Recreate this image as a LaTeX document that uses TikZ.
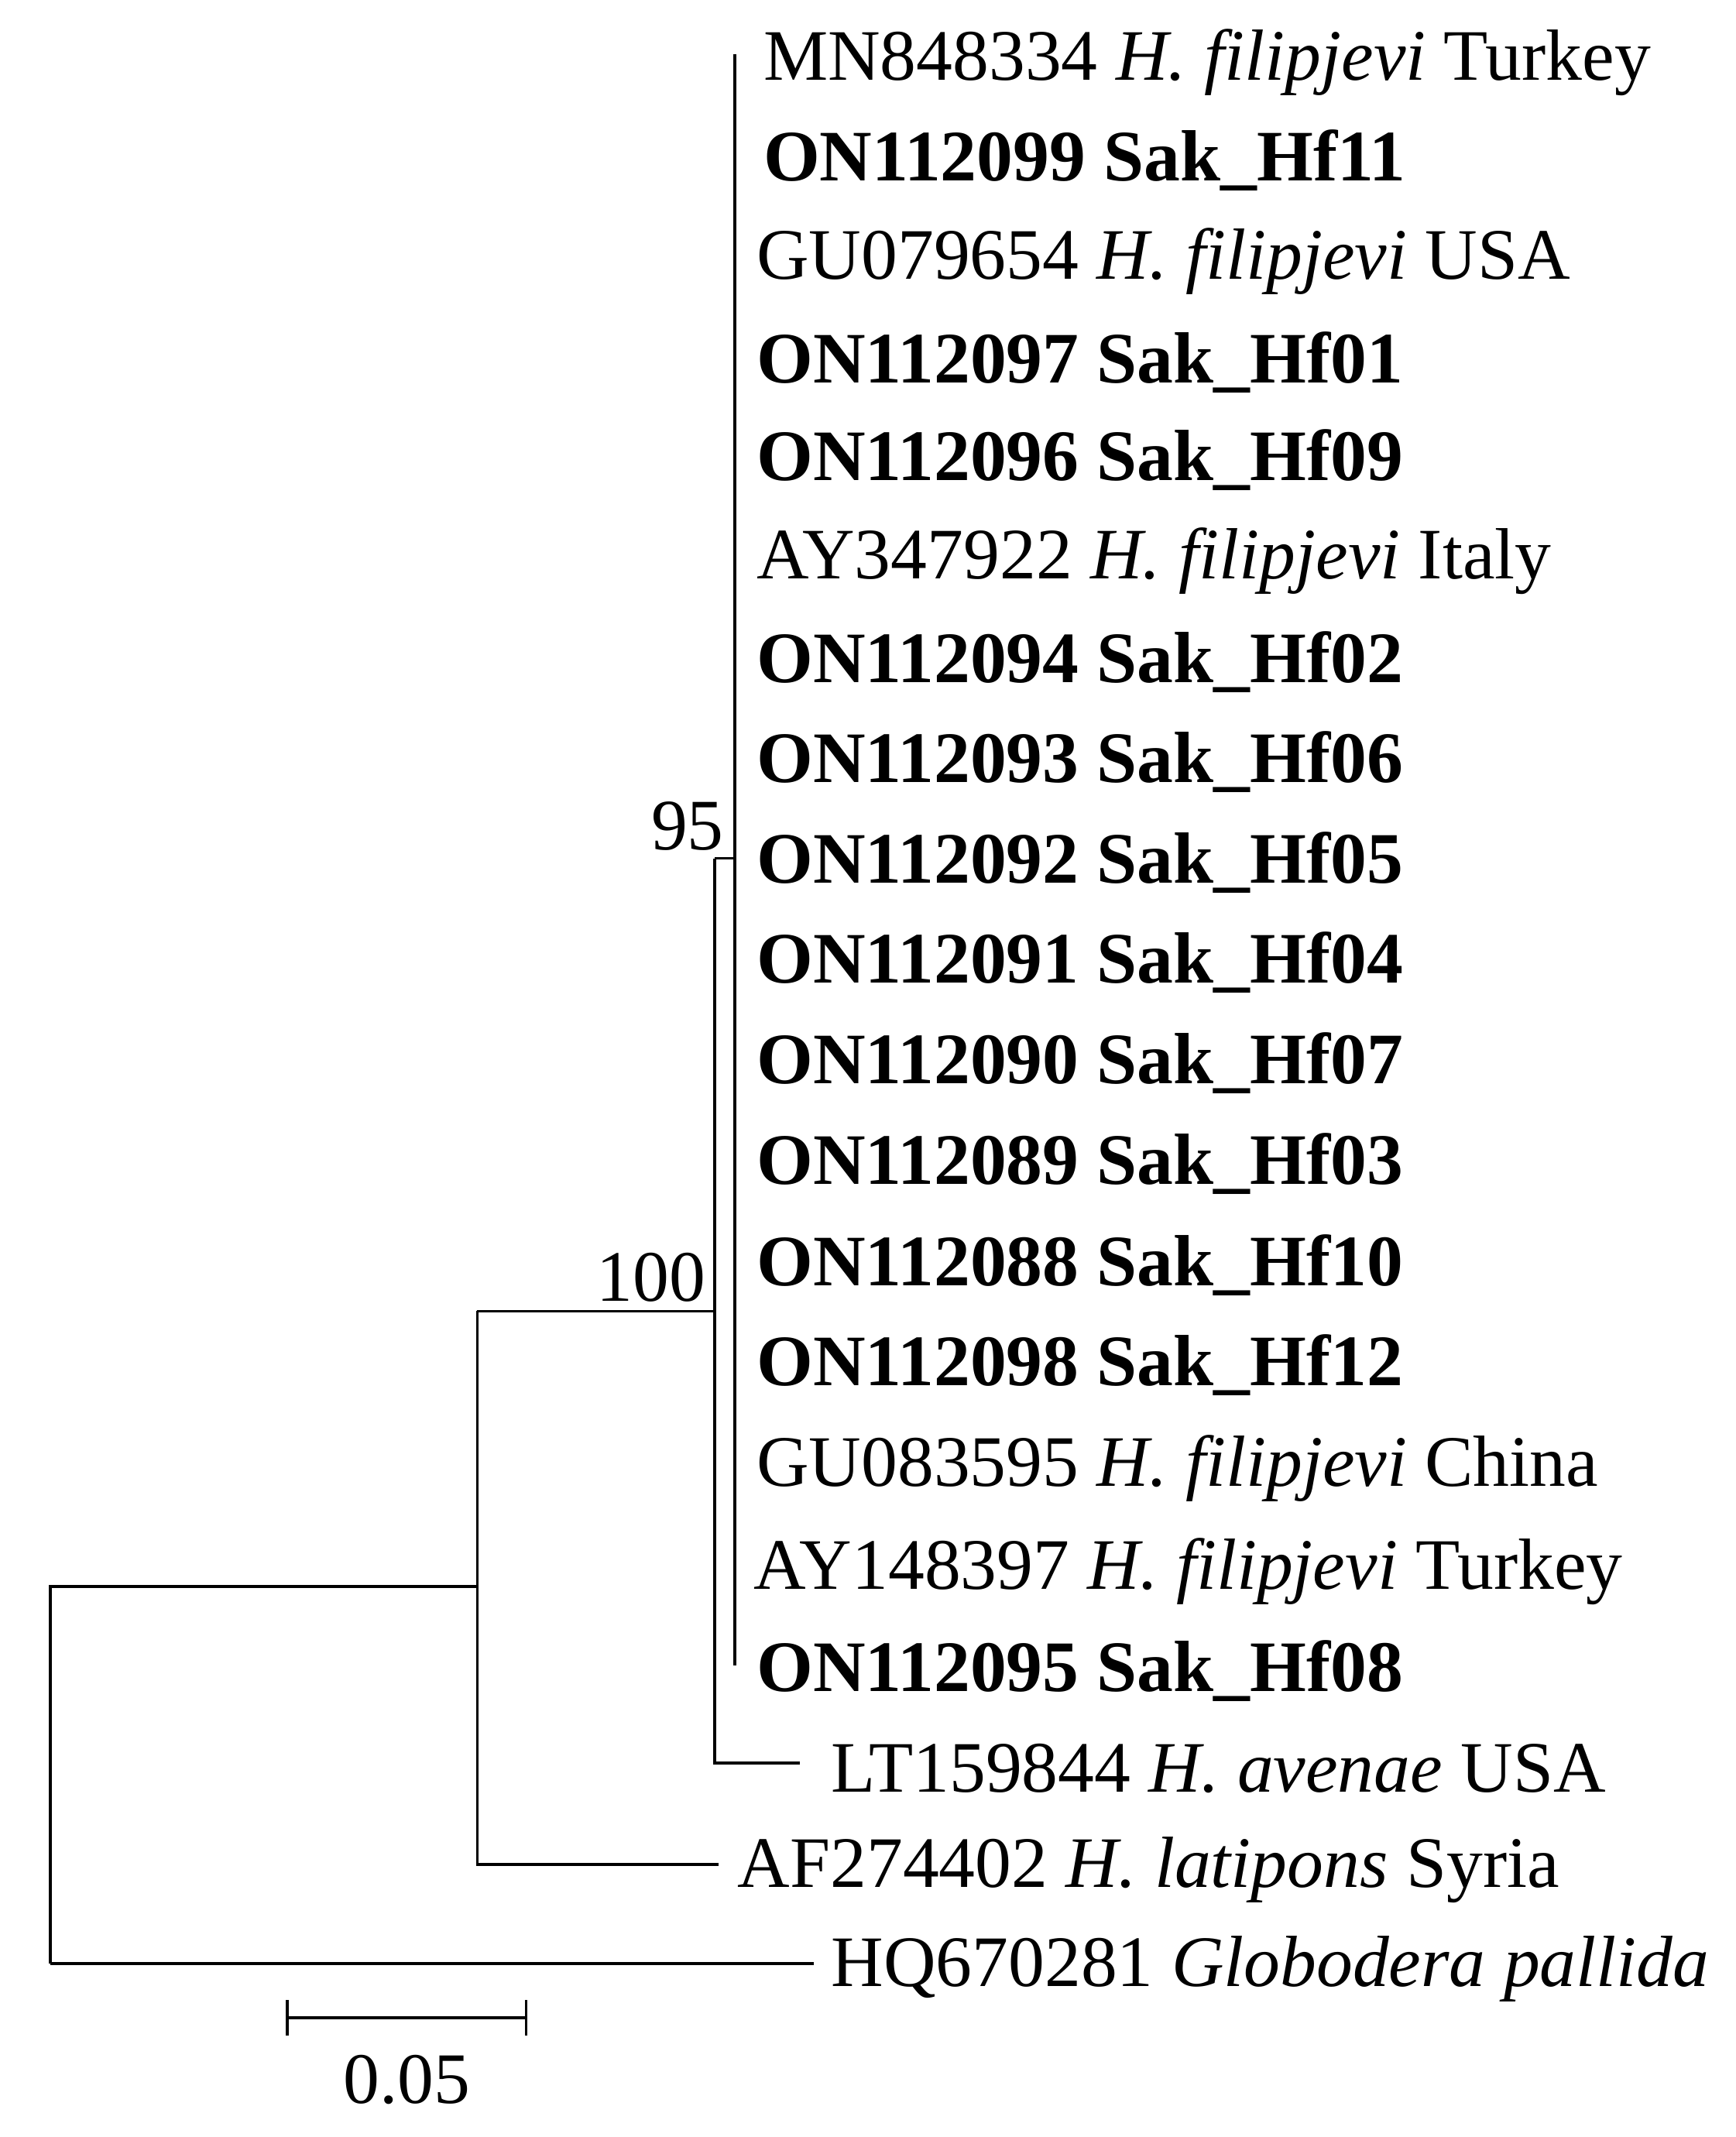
\documentclass[tikz,border=0pt]{standalone}
\usepackage{fontspec}
\setmainfont{Liberation Serif}
\begin{document}
\begin{tikzpicture}[x=0.01cm,y=-0.01cm,line width=0.6pt,
  lab/.style={anchor=west,inner sep=0pt,font=\fontsize{15.2}{17}\selectfont},
  blab/.style={lab,font=\fontsize{15.2}{17}\selectfont\bfseries},
  sup/.style={inner sep=0pt,font=\fontsize{15.2}{17}\selectfont}]
\useasboundingbox (0,0) rectangle (1280,1576);
% tree nodes
\coordinate (r) at (37,1170);
\coordinate (rb) at (37,1448);
\coordinate (n1) at (352,1170);
\coordinate (n1t) at (352,967);
\coordinate (n1b) at (352,1375);
\coordinate (n2) at (527,967);
\coordinate (n2t) at (527,633);
\coordinate (n2b) at (527,1300);
\coordinate (n3) at (542,633);
\coordinate (n3t) at (542,40);
\coordinate (n3b) at (542,1228);
\coordinate (gl) at (600,1448);
\coordinate (lt) at (530,1375);
\coordinate (av) at (590,1300);
% labels
\begin{scope}[yshift=-0.04cm]
\node[lab] (t1) at (562,42) {MN848334 \textit{H. filipjevi} Turkey};
\node[blab] (t2) at (562,114) {ON112099 Sak\_Hf11};
\node[lab] (t3) at (557,189) {GU079654 \textit{H. filipjevi} USA};
\node[blab] (t4) at (557,263) {ON112097 Sak\_Hf01};
\node[blab] (t5) at (557,335) {ON112096 Sak\_Hf09};
\node[lab] (t6) at (557,410) {AY347922 \textit{H. filipjevi} Italy};
\node[blab] (t7) at (557,484) {ON112094 Sak\_Hf02};
\node[blab] (t8) at (557,558) {ON112093 Sak\_Hf06};
\node[blab] (t9) at (557,632) {ON112092 Sak\_Hf05};
\node[blab] (t10) at (557,706) {ON112091 Sak\_Hf04};
\node[blab] (t11) at (557,780) {ON112090 Sak\_Hf07};
\node[blab] (t12) at (557,854) {ON112089 Sak\_Hf03};
\node[blab] (t13) at (557,929) {ON112088 Sak\_Hf10};
\node[blab] (t14) at (557,1003) {ON112098 Sak\_Hf12};
\node[lab] (t15) at (557,1079) {GU083595 \textit{H. filipjevi} China};
\node[lab] (t16) at (555,1155) {AY148397 \textit{H. filipjevi} Turkey};
\node[blab] (t17) at (557,1228) {ON112095 Sak\_Hf08};
\node[lab] (t18) at (612,1300) {LT159844 \textit{H. avenae} USA};
\node[lab] (t19) at (543,1375) {AF274402 \textit{H. latipons} Syria};
\node[lab] (t20) at (612,1448) {HQ670281 \textit{Globodera pallida}};
\node[sup] (s100) at (480,938) {100};
\node[sup] (s95) at (507,605) {95};
\node[sup] (sl) at (300,1530) {0.05};
\end{scope}
% branches
\draw (rb) -- (r) -- (n1);
\draw (rb) -- (gl);
\draw (n1t) -- (n1b) -- (lt);
\draw (n1t) -- (n2);
\draw (n2t) -- (n2b) -- (av);
\draw (n2t) -- (n3);
\draw (n3t) -- (n3b);
% scale bar
\coordinate (sa) at (212,1488);
\coordinate (sb) at (388,1488);
\draw (sa) -- (sb);
\draw ([yshift=-0.13cm]sa) -- ([yshift=0.13cm]sa);
\draw ([yshift=-0.13cm]sb) -- ([yshift=0.13cm]sb);
\end{tikzpicture}
\end{document}
